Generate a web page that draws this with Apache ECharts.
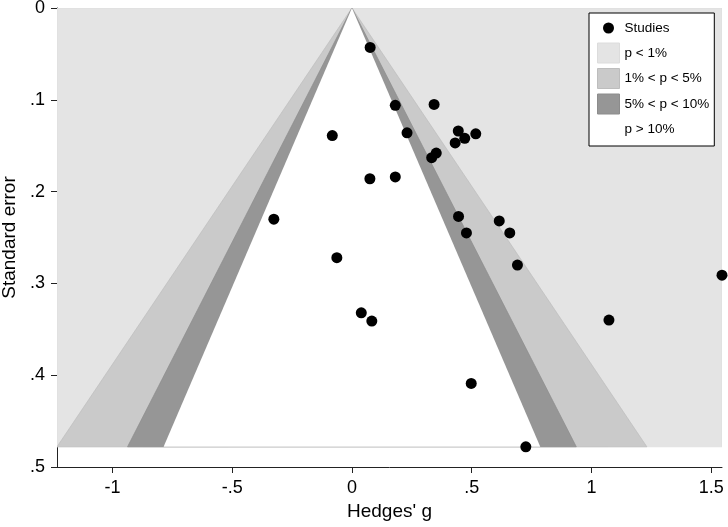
<!DOCTYPE html>
<html>
<head>
<meta charset="utf-8">
<script src="https://cdn.jsdelivr.net/npm/echarts@6/dist/echarts.min.js"></script>
<style>
  html, body { margin: 0; padding: 0; background: #fff; }
  #main { width: 728px; height: 527px; }
</style>
</head>
<body>
<div id="main"></div>
<script>
// studies: effect size (Hedges' g) and its standard error
var effects = [0.076, 0.181, 0.343, -0.082, 0.230, 0.444, 0.471, 0.517, 0.431, 0.352, 0.333, 0.075, 0.181,
	-0.326, 0.445, 0.615, 0.478, 0.659, 0.691, 1.545, -0.063, 0.039, 0.083, 1.073, 0.498, 0.726];
var stdErrors = [0.043, 0.106, 0.105, 0.139, 0.136, 0.134, 0.142, 0.137, 0.147, 0.158, 0.163, 0.186, 0.184,
	0.230, 0.227, 0.232, 0.245, 0.245, 0.280, 0.291, 0.272, 0.332, 0.341, 0.340, 0.409, 0.478];

// contour bounds (z for p = 1%, 5%, 10%)
var contourZ = [2.576, 1.960, 1.645];
var contourNames = ['p < 1%', '1% < p < 5%', '5% < p < 10%', 'p > 10%'];
var contourColors = ['#e4e4e4', '#cacaca', '#969696', '#ffffff'];
var contourEdges = ['#dcdcdc', '#bdbdbd', '#8c8c8c', '#8c8c8c'];

var xTicks = [-1, -0.5, 0, 0.5, 1, 1.5];

var maxSE = Math.max.apply(null, stdErrors);
var xMin = -contourZ[0] * maxSE;
var xMax = Math.max.apply(null, effects);

var FONT = '"Liberation Sans", Arial, Helvetica, sans-serif';

function stataNum(v) {
	var s = String(Math.round(v * 1000) / 1000);
	return s.replace(/^(-?)0\./, '$1.');
}

var studies = [];
for (var i = 0; i < effects.length; i++) {
	studies.push([effects[i], stdErrors[i]]);
}

function regionPolygon(k) {
	return function(params, api) {
		var pts;
		if (k === 0) {
			pts = [[xMin, 0], [xMax, 0], [xMax, maxSE], [xMin, maxSE]];
		} else {
			var z = contourZ[k - 1];
			pts = [[0, 0], [-z * maxSE, maxSE], [z * maxSE, maxSE]];
		}
		var points = pts.map(function(p) { return api.coord(p); });
		return {
			type: 'polygon',
			shape: { points: points },
			style: {
				fill: contourColors[k],
				stroke: contourEdges[k],
				lineWidth: k === 3 ? 0 : 0.7
			}
		};
	};
}

var series = [];
for (var k = 0; k < contourNames.length; k++) {
	series.push({
		name: contourNames[k],
		type: 'custom',
		renderItem: regionPolygon(k),
		data: [[0, 0]],
		itemStyle: { color: contourColors[k] },
		clip: true,
		silent: true,
		z: 1
	});
}
series.push({
	name: 'Studies',
	type: 'scatter',
	data: studies,
	symbol: 'circle',
	symbolSize: 11,
	itemStyle: { color: '#000', opacity: 1 },
	clip: false,
	z: 3
});

var legendData = [{
	name: 'Studies',
	icon: 'path://M0,0M22,20M5.5,10A5.5,5.5 0 1,0 16.5,10A5.5,5.5 0 1,0 5.5,10Z',
	itemStyle: { color: '#000' }
}];
for (var k = 0; k < contourNames.length; k++) {
	legendData.push({
		name: contourNames[k],
		icon: 'rect',
		itemStyle: { color: contourColors[k], borderColor: k === 3 ? '#fff' : contourEdges[k], borderWidth: 1 }
	});
}

var chart = echarts.init(document.getElementById('main'));
chart.setOption({
	animation: false,
	backgroundColor: '#fff',
	textStyle: { fontFamily: FONT },
	grid: { left: 57, right: 6, top: 8, bottom: 60, containLabel: false, outerBoundsMode: 'none' },
	legend: {
		data: legendData,
		orient: 'vertical',
		left: 589,
		top: 13,
		padding: [5, 5, 6, 8],
		itemWidth: 22,
		itemHeight: 20,
		itemGap: 4.5,
		backgroundColor: '#fff',
		borderColor: '#000',
		borderWidth: 1,
		selectedMode: false,
		textStyle: { fontFamily: FONT, fontSize: 13.5, color: '#000' },
		z: 10
	},
	xAxis: {
		type: 'value',
		min: xMin,
		max: xMax,
		name: "Hedges' g",
		nameLocation: 'middle',
		nameGap: 35,
		nameTextStyle: { fontFamily: FONT, fontSize: 19, color: '#000' },
		axisLine: { show: true, onZero: false, lineStyle: { color: '#222', width: 1 } },
		axisTick: { show: true, length: 6, customValues: xTicks, lineStyle: { color: '#222' } },
		axisLabel: {
			customValues: xTicks,
			fontSize: 18,
			color: '#000',
			margin: 12,
			formatter: stataNum
		},
		splitLine: { show: false }
	},
	yAxis: {
		type: 'value',
		inverse: true,
		min: 0,
		max: 0.5,
		interval: 0.1,
		name: 'Standard error',
		nameLocation: 'middle',
		nameGap: 37,
		nameTextStyle: { fontFamily: FONT, fontSize: 19, color: '#000' },
		axisLine: { show: true, onZero: false, lineStyle: { color: '#222', width: 1 } },
		axisTick: { show: true, length: 6, lineStyle: { color: '#222' } },
		axisLabel: {
			fontSize: 18,
			color: '#000',
			margin: 12,
			formatter: stataNum
		},
		splitLine: { show: false }
	},
	series: series
});
</script>
</body>
</html>
